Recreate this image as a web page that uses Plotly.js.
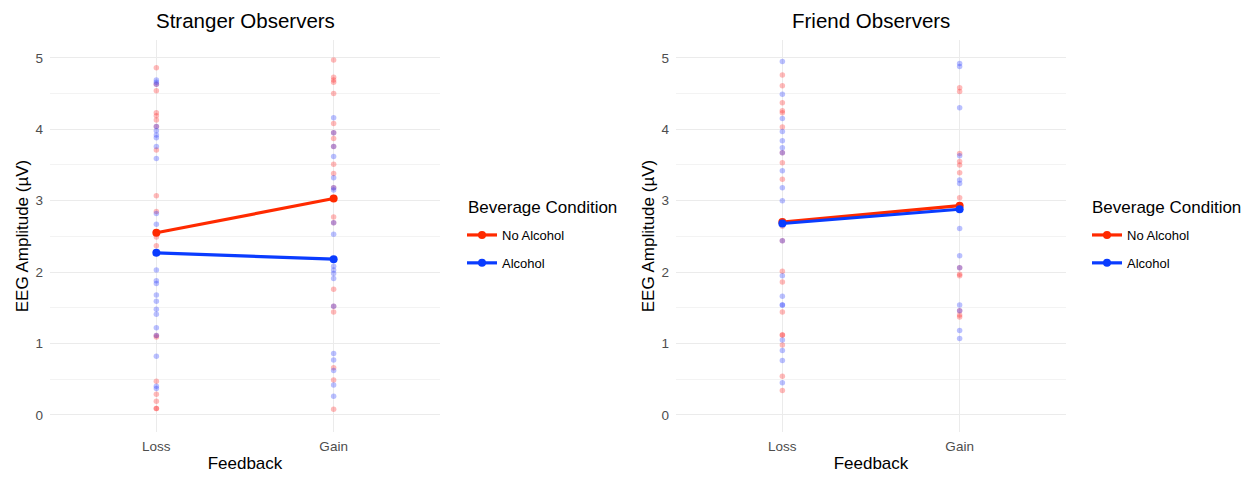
<!DOCTYPE html>
<html>
<head>
<meta charset="utf-8">
<script src="https://cdn.plot.ly/plotly-3.0.1.min.js"></script>
<style>html,body{margin:0;padding:0;background:#fff;}#chart{width:1258px;height:478px;}</style>
</head>
<body>
<div id="chart"></div>
<script>
// Categories
const feedback = ["Loss", "Gain"];
const groups = ["No Alcohol", "Alcohol"];
const legendTitle = "Beverage Condition";
const panelTitles = ["Stranger Observers", "Friend Observers"];

// Stranger observers: individual values
const strangerLossNoAlc = [4.86, 4.63, 4.54, 4.23, 4.19, 4.13, 4.04, 3.71, 3.07, 2.85, 2.49, 2.37, 1.11, 1.09, 0.47, 0.29, 0.19, 0.09, 0.09];
const strangerLossAlc = [4.69, 4.66, 4.63, 4.04, 3.98, 3.92, 3.88, 3.76, 3.59, 2.82, 2.67, 2.03, 1.88, 1.84, 1.68, 1.59, 1.48, 1.41, 1.22, 1.11, 0.82, 0.40, 0.37];
const strangerGainNoAlc = [4.97, 4.73, 4.69, 4.66, 4.50, 4.08, 3.95, 3.87, 3.76, 3.51, 3.38, 3.18, 2.77, 2.69, 1.76, 1.52, 1.44, 0.66, 0.49, 0.08];
const strangerGainAlc = [4.16, 3.95, 3.76, 3.62, 3.32, 3.18, 3.15, 2.69, 2.53, 2.08, 2.03, 1.98, 1.91, 1.52, 0.86, 0.77, 0.62, 0.42, 0.26];
// Stranger means [Loss, Gain]
const strangerMeanNoAlc = [2.55, 3.03];
const strangerMeanAlc = [2.27, 2.18];

// Friend observers: individual values
const friendLossNoAlc = [4.76, 4.61, 4.37, 4.26, 4.23, 4.03, 3.67, 3.53, 3.30, 2.64, 2.44, 2.01, 1.86, 1.44, 1.12, 1.12, 0.98, 0.54, 0.34];
const friendLossAlc = [4.95, 4.49, 4.15, 3.97, 3.84, 3.74, 3.67, 3.42, 3.18, 3.00, 2.44, 1.95, 1.66, 1.54, 1.54, 1.05, 0.90, 0.76, 0.45];
const friendGainNoAlc = [4.58, 4.53, 3.66, 3.55, 3.50, 3.39, 3.04, 2.06, 1.97, 1.95, 1.46, 1.40, 1.37];
const friendGainAlc = [4.92, 4.88, 4.30, 3.63, 3.29, 3.24, 2.61, 2.23, 2.06, 1.54, 1.46, 1.18, 1.07];
// Friend means [Loss, Gain]
const friendMeanNoAlc = [2.70, 2.93];
const friendMeanAlc = [2.68, 2.88];

const yTicks = [0, 1, 2, 3, 4, 5];

const RED = "#ff2a00";
const BLUE = "#0a3cff";
const RED_PT = "rgba(255,40,40,0.32)";
const BLUE_PT = "rgba(40,60,255,0.32)";

function pts(loss, gain, color, xa, ya) {
  const x = loss.map(() => feedback[0]).concat(gain.map(() => feedback[1]));
  return {
    type: "scatter", mode: "markers", x: x, y: loss.concat(gain),
    xaxis: xa, yaxis: ya, showlegend: false, hoverinfo: "skip",
    marker: {color: color, size: 5.5, line: {width: 0}}
  };
}
function meanLine(vals, name, color, xa, ya, leg, grp) {
  return {
    type: "scatter", mode: "lines+markers", x: feedback, y: vals, name: name,
    xaxis: xa, yaxis: ya, legend: leg, legendgroup: grp,
    line: {color: color, width: 3.2}, marker: {color: color, size: 8}
  };
}

const data = [
  pts(strangerLossNoAlc, strangerGainNoAlc, RED_PT, "x", "y"),
  pts(strangerLossAlc, strangerGainAlc, BLUE_PT, "x", "y"),
  meanLine(strangerMeanNoAlc, groups[0], RED, "x", "y", "legend", "s0"),
  meanLine(strangerMeanAlc, groups[1], BLUE, "x", "y", "legend", "s1"),
  pts(friendLossNoAlc, friendGainNoAlc, RED_PT, "x2", "y2"),
  pts(friendLossAlc, friendGainAlc, BLUE_PT, "x2", "y2"),
  meanLine(friendMeanNoAlc, groups[0], RED, "x2", "y2", "legend2", "f0"),
  meanLine(friendMeanAlc, groups[1], BLUE, "x2", "y2", "legend2", "f1")
];

const FONT = "Liberation Sans, Arial, Helvetica, sans-serif";
const GRID = "#ebebeb";

function xax(domain, anchor) {
  return {
    domain: domain, anchor: anchor, type: "category",
    categoryorder: "array", categoryarray: feedback,
    range: [-0.6, 1.6], showgrid: true, gridcolor: GRID, gridwidth: 1.1,
    zeroline: false, showline: false, ticks: "",
    tickfont: {family: FONT, size: 13.5, color: "#4d4d4d"},
    ticklabelstandoff: 4,
    title: {text: "Feedback", font: {family: FONT, size: 17, color: "#000"}, standoff: 4},
    fixedrange: true
  };
}
function yax(domain, anchor) {
  return {
    domain: domain, anchor: anchor, range: [-0.24, 5.25],
    tickvals: yTicks, ticktext: yTicks.map(String),
    showgrid: true, gridcolor: GRID, gridwidth: 1.1, zeroline: false, showline: false, ticks: "",
    minor: {tickvals: [0.5, 1.5, 2.5, 3.5, 4.5], showgrid: true, gridcolor: "#f3f3f3", gridwidth: 1},
    tickfont: {family: FONT, size: 13.5, color: "#4d4d4d"},
    ticklabelstandoff: 6,
    title: {text: "EEG Amplitude (µV)", font: {family: FONT, size: 17, color: "#000"}, standoff: 2},
    fixedrange: true
  };
}
function leg(x) {
  return {
    x: x, xanchor: "left", y: 1 - 220 / 478, yanchor: "top",
    traceorder: "grouped", tracegroupgap: 8,
    font: {family: FONT, size: 13, color: "#000"},
    bgcolor: "rgba(0,0,0,0)", itemwidth: 30
  };
}
function ann(text, xpx, ypx, size, anchor) {
  return {text: text, x: xpx / 1258, y: 1 - ypx / 478, xref: "paper", yref: "paper",
    xanchor: anchor, yanchor: "middle", showarrow: false,
    font: {family: FONT, size: size, color: "#000"}};
}

const yDom = [0.0962, 0.9163];
const layout = {
  width: 1258, height: 478,
  margin: {l: 0, r: 0, t: 0, b: 0},
  paper_bgcolor: "#fff", plot_bgcolor: "#fff",
  font: {family: FONT},
  xaxis: xax([50 / 1258, 440 / 1258], "y"),
  yaxis: yax(yDom, "x"),
  xaxis2: xax([676 / 1258, 1066 / 1258], "y2"),
  yaxis2: yax(yDom, "x2"),
  legend: leg(462 / 1258),
  legend2: leg(1087 / 1258),
  annotations: [
    ann(panelTitles[0], 245, 20, 20.5, "center"),
    ann(panelTitles[1], 871, 20, 20.5, "center"),
    ann(legendTitle, 466, 207, 17, "left"),
    ann(legendTitle, 1090, 207, 17, "left")
  ],
  showlegend: true
};

Plotly.newPlot("chart", data, layout, {displayModeBar: false, staticPlot: true});
</script>
</body>
</html>
